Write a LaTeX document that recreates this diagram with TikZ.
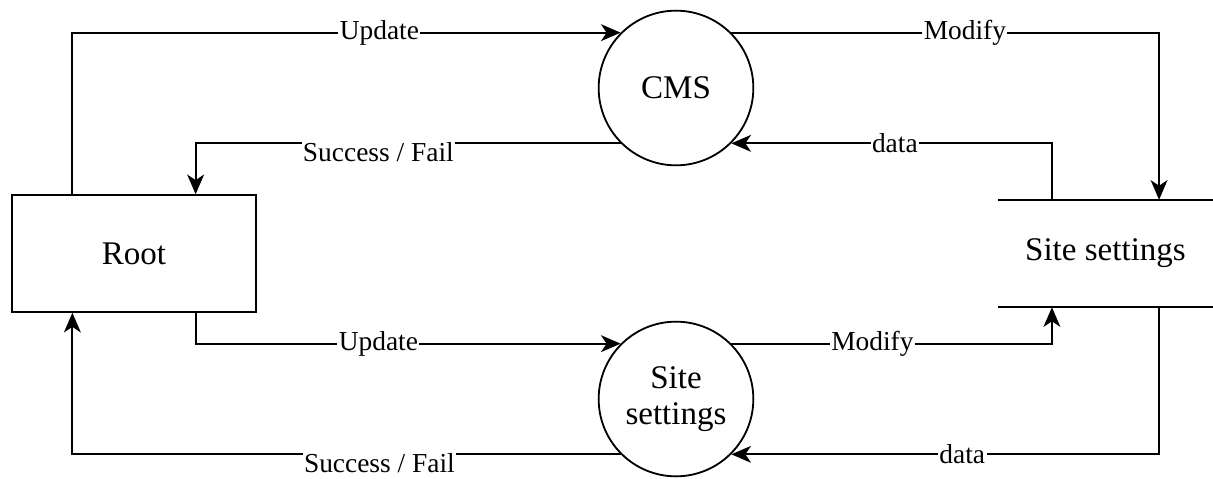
\documentclass[tikz,border=0pt]{standalone}
\usepackage{fontspec}
\setmainfont{Liberation Serif}
\usepackage{tikz}
\usetikzlibrary{arrows.meta, positioning, calc}
\tikzset{
  process/.style={circle, draw=black, line width=1.3pt, minimum size=110pt,
                  inner sep=0pt, align=center, font=\fontsize{23.5}{26}\selectfont},
  entity/.style={rectangle, draw=black, line width=1.3pt, minimum width=174pt,
                 minimum height=83pt, inner sep=0pt, font=\fontsize{23.5}{26}\selectfont},
  datastore/.style={rectangle, minimum width=152pt, minimum height=76pt,
                    inner sep=0pt, font=\fontsize{23.5}{26}\selectfont},
  flow/.style={-{Stealth[length=14pt, width=12pt, inset=4pt]}, line width=1.3pt},
  flowlabel/.style={fill=white, inner sep=1pt, font=\fontsize{19.5}{22}\selectfont},
}
\begin{document}
\begin{tikzpicture}[x=0.025cm, y=-0.025cm]
  \useasboundingbox (0,0) rectangle (1213,479);

  \node[entity] (root) at (134,253.5) {Root};
  \node[process] (cms) at (676,88) {CMS};
  \node[process] (site) at (676,399) {Site\\settings};
  \node[datastore] (store) at (1105.5,253.5) {Site settings};
  \draw[line width=1.3pt] (store.north west) -- (store.north east);
  \draw[line width=1.3pt] (store.south west) -- (store.south east);

  \coordinate (rootNW) at ($(root.north west)!0.25!(root.north east)$);
  \coordinate (rootNE) at ($(root.north west)!0.75!(root.north east)$);
  \coordinate (rootSW) at ($(root.south west)!0.25!(root.south east)$);
  \coordinate (rootSE) at ($(root.south west)!0.75!(root.south east)$);
  \coordinate (storeNW) at ($(store.north west)!0.25!(store.north east)$);
  \coordinate (storeNE) at ($(store.north west)!0.75!(store.north east)$);
  \coordinate (storeSW) at ($(store.south west)!0.25!(store.south east)$);
  \coordinate (storeSE) at ($(store.south west)!0.75!(store.south east)$);

  % upper half
  \draw[flow] (rootNW) |- node[flowlabel, pos=0.78] {Update} (cms.135);
  \draw[flow] (cms.225) -| node[flowlabel, pos=0.285, yshift=-6pt] {Success / Fail} (rootNE);
  \draw[flow] (cms.45) -| node[flowlabel, pos=0.273] {Modify} (storeNE);
  \draw[flow] (storeNW) |- node[flowlabel, pos=0.745] {data} (cms.-45);

  % lower half
  \draw[flow] (rootSE) |- node[flowlabel, pos=0.715] {Update} (site.135);
  \draw[flow] (site.45) -| node[flowlabel, pos=0.22] {Modify} (storeSW);
  \draw[flow] (storeSE) |- node[flowlabel, pos=0.73] {data} (site.-45);
  \draw[flow] (site.225) -| node[flowlabel, pos=0.22, yshift=-6pt] {Success / Fail} (rootSW);
\end{tikzpicture}
\end{document}
